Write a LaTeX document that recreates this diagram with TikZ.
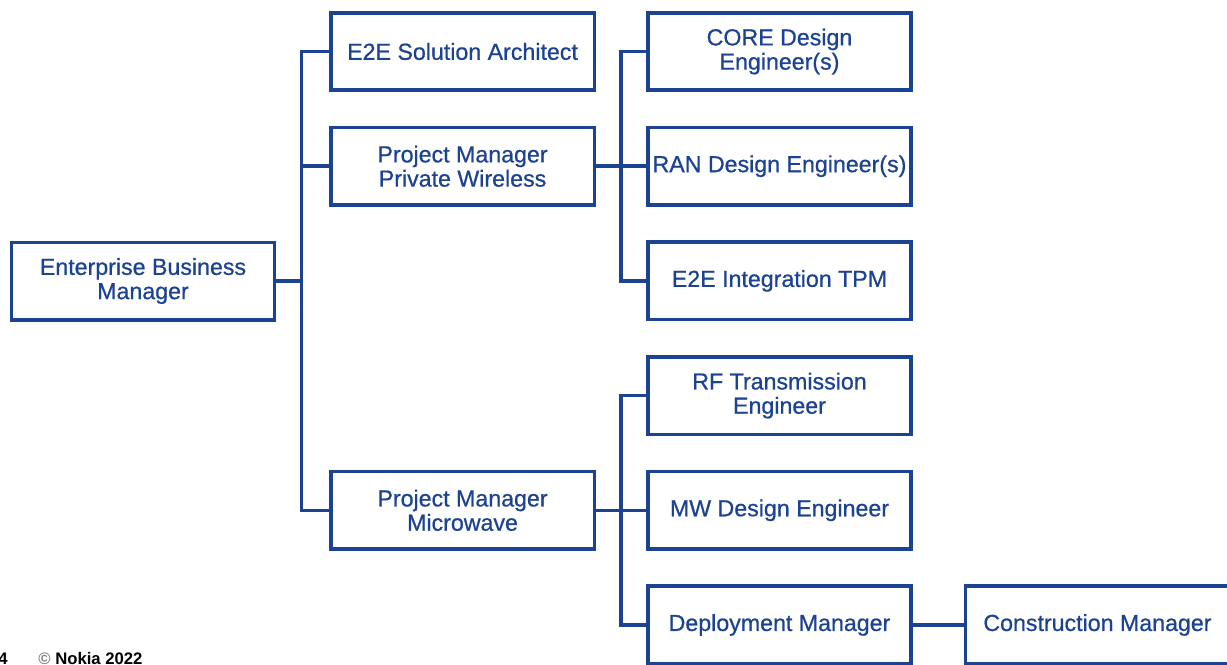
\documentclass[tikz,border=0pt]{standalone}
\usepackage{fontspec}
\setmainfont{Liberation Sans}
\newfontfamily\rolefont[FakeBold=0.7]{Liberation Sans}
\usetikzlibrary{positioning}
\definecolor{orgblue}{RGB}{28,66,146}
\tikzset{
    x=0.02cm, y=-0.02cm,
    node distance = 0.674cm,
    role/.style={draw=orgblue, line width=2pt, text=orgblue, align=center,
        minimum width=5.27cm, minimum height=1.55cm, inner xsep=1pt,
        font=\rolefont\fontsize{13.2}{13.8}\selectfont},
    link/.style={draw=orgblue, line width=2pt},
    footer/.style={inner sep=0pt, font=\fontsize{9.5}{11}\selectfont\bfseries}
}

\begin{document}
\begin{tikzpicture}
    \useasboundingbox (0,0) rectangle (1227,664);
    \clip (0,0) rectangle (1227,664);

    % org chart boxes
    \node[role] (ebm) at (143,281) {Enterprise Business\\Manager};
    \node[role] (core) at (779.5,51.5) {CORE Design\\Engineer(s)};
    \node[role, below=of core] (ran) {RAN Design Engineer(s)};
    \node[role, below=of ran] (tpm) {E2E Integration TPM};
    \node[role, below=of tpm] (rf) {RF Transmission\\Engineer};
    \node[role, below=of rf] (mw) {MW Design Engineer};
    \node[role, below=of mw] (dep) {Deployment Manager};
    \node[role, left=1cm of core] (sa) {E2E Solution Architect};
    \node[role, left=1cm of ran] (pmpw) {Project Manager\\Private Wireless};
    \node[role, left=1cm of mw] (pmmw) {Project Manager\\Microwave};
    \node[role, right=1.02cm of dep] (cons) {Construction Manager};

    % reporting lines
    \draw[link] (ebm.east) -- ++(25,0) coordinate (hub1);
    \draw[link] (sa.west) -- (sa.west -| hub1) -- (pmmw.west -| hub1) -- (pmmw.west);
    \draw[link] (pmpw.west) -- (pmpw.west -| hub1);

    \draw[link] (pmpw.east) -- ++(25,0) coordinate (hub2);
    \draw[link] (core.west) -- (core.west -| hub2) -- (tpm.west -| hub2) -- (tpm.west);
    \draw[link] (ran.west) -- (ran.west -| hub2);

    \draw[link] (pmmw.east) -- ++(25,0) coordinate (hub3);
    \draw[link] (rf.west) -- (rf.west -| hub3) -- (dep.west -| hub3) -- (dep.west);
    \draw[link] (mw.west) -- (mw.west -| hub3);

    \draw[link] (dep.east) -- (cons.west);

    % slide footer
    \node[footer, anchor=base east] (page) at (8,664) {4};
    \node[footer, anchor=base west] (copy) at (38,664) {\textcolor{gray}{\textcopyright}~Nokia 2022};
\end{tikzpicture}
\end{document}
